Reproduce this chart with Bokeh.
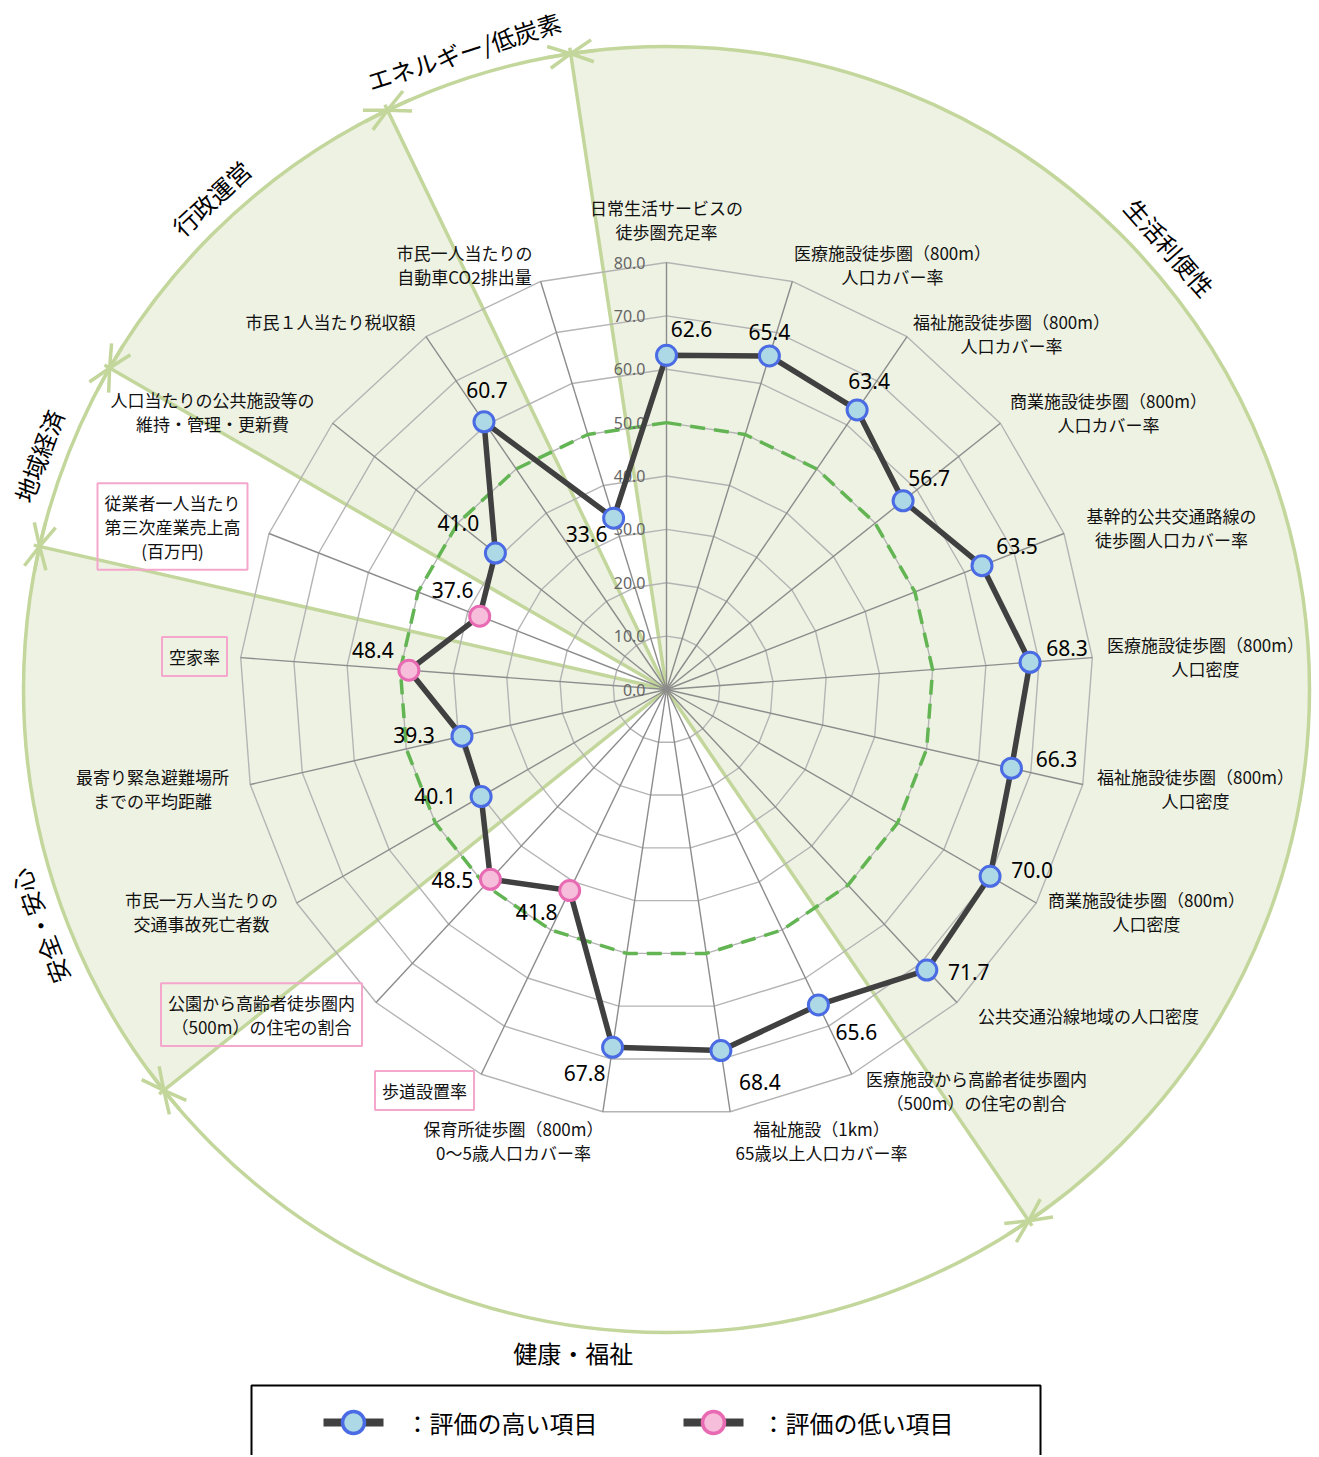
import math
from bokeh.plotting import figure
from bokeh.models import ColumnDataSource, Range1d, Arrow, OpenHead
from bokeh.core.properties import value
from bokeh.embed import file_html
from bokeh.resources import INLINE

# ---------------- data ----------------
axis_labels = [
    "日常生活サービスの\n徒歩圏充足率",
    "医療施設徒歩圏（800m）\n人口カバー率",
    "福祉施設徒歩圏（800m）\n人口カバー率",
    "商業施設徒歩圏（800m）\n人口カバー率",
    "基幹的公共交通路線の\n徒歩圏人口カバー率",
    "医療施設徒歩圏（800m）\n人口密度",
    "福祉施設徒歩圏（800m）\n人口密度",
    "商業施設徒歩圏（800m）\n人口密度",
    "公共交通沿線地域の人口密度",
    "医療施設から高齢者徒歩圏内\n（500m）の住宅の割合",
    "福祉施設（1km）\n65歳以上人口カバー率",
    "保育所徒歩圏（800m）\n0～5歳人口カバー率",
    "歩道設置率",
    "公園から高齢者徒歩圏内\n（500m）の住宅の割合",
    "市民一万人当たりの\n交通事故死亡者数",
    "最寄り緊急避難場所\nまでの平均距離",
    "空家率",
    "従業者一人当たり\n第三次産業売上高\n(百万円)",
    "人口当たりの公共施設等の\n維持・管理・更新費",
    "市民１人当たり税収額",
    "市民一人当たりの\n自動車CO2排出量",
]
scores = [62.6, 65.4, 63.4, 56.7, 63.5, 68.3, 66.3, 70.0, 71.7, 65.6, 68.4,
          67.8, 41.8, 48.5, 40.1, 39.3, 48.4, 37.6, 41.0, 60.7, 33.6]
low_rated = [False, False, False, False, False, False, False, False, False, False, False,
             False, True, True, False, False, True, True, False, False, False]
tick_values = [0, 10, 20, 30, 40, 50, 60, 70, 80]
tick_labels = ["0.0", "10.0", "20.0", "30.0", "40.0", "50.0", "60.0", "70.0", "80.0"]
reference_level = 50
categories = ["生活利便性", "健康・福祉", "安全・安心", "地域経済", "行政運営", "エネルギー/低炭素"]
category_sizes = [9, 5, 3, 1, 2, 1]
legend_labels = ["：評価の高い項目", "：評価の低い項目"]

# ---------------- layout / style ----------------
W, H = 1315, 1455
ORG = 0                        # page pixel of the figure's top-left corner
CX, CY = 666, 689              # centre in page pixels
SCALE = 427 / 80               # pixels per score unit
R_OUT = 643
GREEN_LINE = "#C3D69B"
GREEN_FILL = "#EEF2E3"
DASH_GREEN = "#62B552"
DARK = "#404040"
BLUE_LINE, BLUE_FILL = "#4A6BE3", "#ADD8E6"
PINK_LINE, PINK_FILL = "#E86AB2", "#F6BEDB"
PINK_BOX = "#F4A6CC"
JP = value("Noto Sans CJK JP")
NUM = value("Noto Sans")
shaded = [True, False, True, False, True, False]
cat_label_angle = [48.7, 188.0, 249.3, 290.4, 317.2, 342.4]   # clock degrees
cat_label_rot = [None, 0.0, None, None, None, None]
CAT_R = 670
# axis label centres (page px)
label_pos = [(666, 219), (892, 264), (1011, 333), (1108, 412), (1171, 527), (1205, 656),
             (1195, 788), (1146, 911), (1088, 1015), (976, 1090), (821, 1140), (513, 1140),
             (424, 1090), (261, 1014), (201, 911), (152, 788), (194, 656), (172, 526),
             (212, 411), (330, 321), (464, 264)]
# value label offsets from the point (page px, y downward)
val_off = [(25, -26), (0, -24), (12, -29), (26, -23), (35, -20), (37, -14), (45, -9),
           (42, -6), (42, 2), (38, 27), (39, 31), (-28, 26), (-33, 21), (-38, 1),
           (-46, -1), (-48, -1), (-36, -20), (-27, -26), (-37, -30), (3, -32), (-27, 16)]


def px(xp):
    return xp - CX


def py(yp):
    return CY - yp


N = len(scores)
step = 2 * math.pi / N


def polar(r, th):
    return r * math.sin(th), r * math.cos(th)


p = figure(width=W, height=H, x_range=Range1d(ORG - CX, ORG + W - CX),
           y_range=Range1d(CY - ORG - H, CY - ORG), output_backend="svg",
           toolbar_location=None, x_axis_type=None, y_axis_type=None, min_border=0)
p.outline_line_color = None
p.grid.visible = False

# ---- category wedges ----
cum = 0
w_start, w_end, bounds = [], [], []
for k, size in enumerate(category_sizes):
    a0 = (cum - 0.5) * step
    a1 = (cum + size - 0.5) * step
    bounds.append(a0)
    if shaded[k]:
        w_start.append(math.pi / 2 - a1)
        w_end.append(math.pi / 2 - a0)
    cum += size
p.wedge(x=0, y=0, radius=R_OUT, start_angle=w_start, end_angle=w_end,
        direction="anticlock", fill_color=GREEN_FILL, line_color=None)

# boundary lines
bx = [polar(R_OUT + 6, b)[0] for b in bounds]
by = [polar(R_OUT + 6, b)[1] for b in bounds]
p.segment(x0=0, y0=0, x1=bx, y1=by, line_color=GREEN_LINE, line_width=3.5)
p.circle(x=0, y=0, radius=R_OUT, fill_color=None, line_color=GREEN_LINE, line_width=3.5)

# ---- grid ----
ring_xs, ring_ys = [], []
for t in tick_values[1:]:
    pts = [polar(t * SCALE, i * step) for i in range(N + 1)]
    ring_xs.append([q[0] for q in pts])
    ring_ys.append([q[1] for q in pts])
p.multi_line(xs=ring_xs, ys=ring_ys, line_color="#B4B4B4", line_width=1.4)
sx = [polar(tick_values[-1] * SCALE, i * step)[0] for i in range(N)]
sy = [polar(tick_values[-1] * SCALE, i * step)[1] for i in range(N)]
p.segment(x0=0, y0=0, x1=sx, y1=sy, line_color="#8C8C8C", line_width=1.4)

# reference ring
ref = [polar(reference_level * SCALE, i * step) for i in range(N + 1)]
p.line(x=[q[0] for q in ref], y=[q[1] for q in ref], line_color=DASH_GREEN,
       line_width=3.5, line_dash="15 9")

# tick labels
p.text(x=[-21] * len(tick_values), y=[t * SCALE for t in tick_values], text=tick_labels,
       text_font=NUM, text_font_size="16px", text_color="#666666",
       text_align="right", text_baseline="middle")

# ---- data ----
pts = [polar(v * SCALE, i * step) for i, v in enumerate(scores)]
dx = [q[0] for q in pts]
dy = [q[1] for q in pts]
p.line(x=dx + dx[:1], y=dy + dy[:1], line_color=DARK, line_width=5.5, line_join="round")
hi = [i for i in range(N) if not low_rated[i]]
lo = [i for i in range(N) if low_rated[i]]
p.scatter(x=[dx[i] for i in hi], y=[dy[i] for i in hi], size=20, marker="circle",
          fill_color=BLUE_FILL, line_color=BLUE_LINE, line_width=3)
p.scatter(x=[dx[i] for i in lo], y=[dy[i] for i in lo], size=20, marker="circle",
          fill_color=PINK_FILL, line_color=PINK_LINE, line_width=3)

p.text(x=[dx[i] + val_off[i][0] for i in range(N)], y=[dy[i] - val_off[i][1] for i in range(N)],
       text=[f"{v:.1f}" for v in scores], text_font=NUM, text_font_size="21px",
       text_color="black", text_align="center", text_baseline="middle")

# axis labels
p.text(x=[px(label_pos[i][0]) for i in hi], y=[py(label_pos[i][1]) for i in hi],
       text=[axis_labels[i] for i in hi], text_font=JP, text_font_size="17px",
       text_color="#111111", text_align="center", text_baseline="middle", text_line_height=0.95)
p.text(x=[px(label_pos[i][0]) for i in lo], y=[py(label_pos[i][1]) for i in lo],
       text=[axis_labels[i] for i in lo], text_font=JP, text_font_size="17px",
       text_color="#111111", text_align="center", text_baseline="middle", text_line_height=0.95,
       border_line_color=PINK_BOX, border_line_width=2, padding=7)

# category labels
cx_, cy_, rot = [], [], []
for k in range(len(categories)):
    a = math.radians(cat_label_angle[k])
    x_, y_ = polar(CAT_R, a)
    cx_.append(x_)
    cy_.append(y_)
    rot.append(-a if cat_label_rot[k] is None else cat_label_rot[k])
p.text(x=cx_, y=cy_, text=categories, angle=rot, text_font=JP, text_font_size="24px",
       text_color="black", text_align="center", text_baseline="middle")

# arrows on the outer circle
delta = math.radians(2.2)
xs0, ys0, xs1, ys1 = [], [], [], []
for b in bounds:
    for s in (-1, 1):
        a, c = polar(R_OUT, b + s * delta)
        e, f = polar(R_OUT, b)
        xs0.append(a); ys0.append(c); xs1.append(e); ys1.append(f)
asrc = ColumnDataSource(dict(x0=xs0, y0=ys0, x1=xs1, y1=ys1))
p.add_layout(Arrow(end=OpenHead(size=22, line_color=GREEN_LINE, line_width=3.5),
                   x_start="x0", y_start="y0", x_end="x1", y_end="y1", source=asrc,
                   line_color=GREEN_LINE, line_width=3.5))

# ---- legend ----
p.quad(left=[px(251)], right=[px(1040)], top=[py(1385)], bottom=[py(1475)],
       fill_color="white", line_color="black", line_width=2)
leg_line_x = [(323, 383), (683, 743)]
leg_fill = [BLUE_FILL, PINK_FILL]
leg_edge = [BLUE_LINE, PINK_LINE]
leg_text_x = [405, 761]
LEG_Y = 1422
p.segment(x0=[px(a) for a, _ in leg_line_x], y0=[py(LEG_Y)] * 2,
          x1=[px(b) for _, b in leg_line_x], y1=[py(LEG_Y)] * 2, line_color=DARK, line_width=8)
p.scatter(x=[px((a + b) / 2) for a, b in leg_line_x], y=[py(LEG_Y)] * 2, size=22,
          marker="circle", fill_color=leg_fill, line_color=leg_edge, line_width=3.5)
p.text(x=[px(t) for t in leg_text_x], y=[py(LEG_Y)] * 2, text=legend_labels, text_font=JP,
       text_font_size="24px", text_color="black", text_align="left", text_baseline="middle")

open("out.html", "w").write(file_html(p, INLINE))
